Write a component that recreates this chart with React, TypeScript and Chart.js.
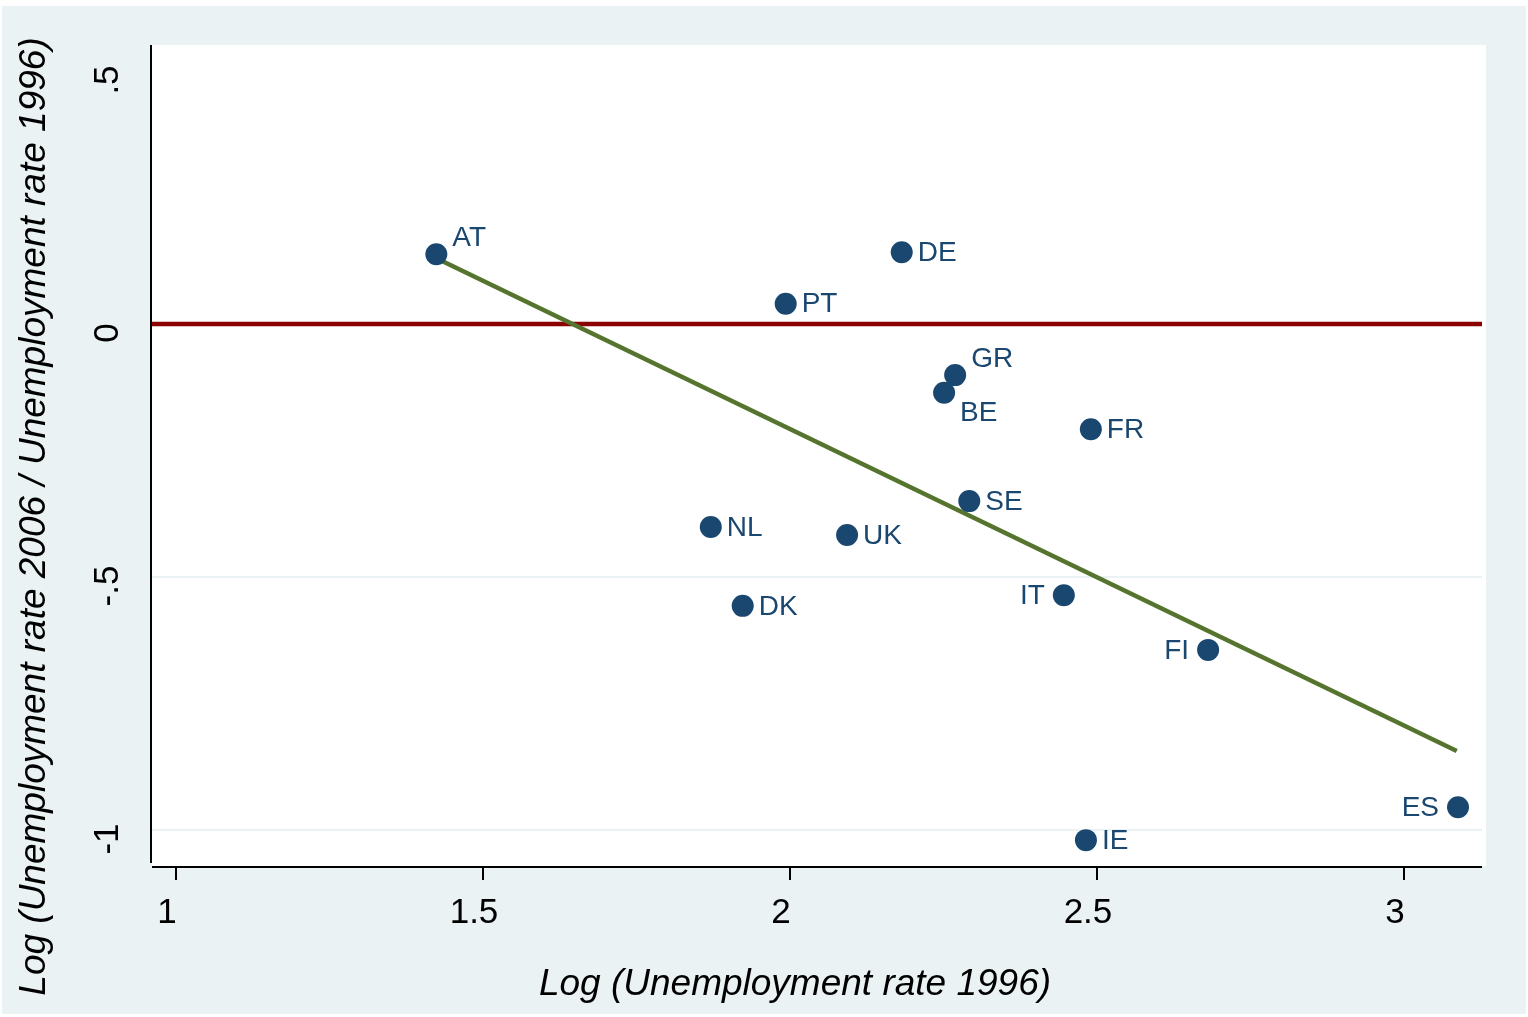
import React, { useEffect, useRef } from "react";
import { Chart, registerables } from "chart.js";

Chart.register(...registerables);

// ---- data ----
const countries = ["AT", "DE", "PT", "GR", "BE", "FR", "SE", "NL", "UK", "IT", "DK", "FI", "ES", "IE"];
const logUnemp1996 = [1.424, 2.182, 1.993, 2.269, 2.251, 2.49, 2.292, 1.871, 2.093, 2.446, 1.923, 2.681, 3.088, 2.482];
const logRatio = [0.138, 0.142, 0.04, -0.101, -0.136, -0.208, -0.35, -0.401, -0.417, -0.536, -0.557, -0.644, -0.955, -1.02];
const fitX = [1.424, 3.086];
const fitY = [0.13, -0.844];
const xTicks = [1, 1.5, 2, 2.5, 3];
const xTickLabels = ["1", "1.5", "2", "2.5", "3"];
const yTicks = [-1, -0.5, 0, 0.5];
const yTickLabels = ["-1", "-.5", "0", ".5"];
const yGridValues = [-1, -0.5];
const refLineY = 0;
const xTitle = "Log (Unemployment rate 1996)";
const yTitle = "Log (Unemployment rate 2006 / Unemployment rate 1996)";

// label placement (clock-style)
const labelPlacement: Record<string, string> = {
  AT: "ne", GR: "ne", BE: "se", IT: "w", FI: "w", ES: "w",
};

const NAVY = "#1a476f";
const GREEN = "#55752f";
const RED = "#8b0000";
const BG = "#eaf2f3";
const FONT = "'Liberation Sans', Arial, Helvetica, sans-serif";

const W = 1528;
const H = 1017;

export default function App() {
  const ref = useRef<HTMLCanvasElement | null>(null);

  useEffect(() => {
    document.body.style.margin = "0";
    const canvas = ref.current!;
    const framePlugin = {
      id: "frame",
      beforeDraw(chart: any) {
        const ctx = chart.ctx;
        const a = chart.chartArea;
        ctx.save();
        ctx.fillStyle = "#ffffff";
        ctx.fillRect(0, 0, W, H);
        ctx.fillStyle = BG;
        ctx.fillRect(2, 6, W - 4, H - 9);
        ctx.fillStyle = "#ffffff";
        ctx.fillRect(a.left, a.top, a.right - a.left, a.bottom - a.top);
        const xs = chart.scales.x;
        const ys = chart.scales.y;
        // gridlines
        ctx.strokeStyle = BG;
        ctx.lineWidth = 2;
        yGridValues.forEach((v) => {
          const py = Math.round(ys.getPixelForValue(v));
          ctx.beginPath();
          ctx.moveTo(a.left, py);
          ctx.lineTo(a.right - 4, py);
          ctx.stroke();
        });
        // reference line
        const ry = ys.getPixelForValue(refLineY);
        ctx.strokeStyle = RED;
        ctx.lineWidth = 4.5;
        ctx.beginPath();
        ctx.moveTo(a.left, ry);
        ctx.lineTo(a.right - 4, ry);
        ctx.stroke();
        // axes
        ctx.strokeStyle = "#000000";
        ctx.lineWidth = 2;
        ctx.beginPath();
        ctx.moveTo(a.left - 1, a.top);
        ctx.lineTo(a.left - 1, a.bottom - 3);
        ctx.stroke();
        ctx.beginPath();
        ctx.moveTo(a.left, a.bottom + 1);
        ctx.lineTo(a.right - 4, a.bottom + 1);
        ctx.stroke();
        xTicks.forEach((v) => {
          const px = Math.round(xs.getPixelForValue(v));
          ctx.beginPath();
          ctx.moveTo(px, a.bottom + 1);
          ctx.lineTo(px, a.bottom + 14);
          ctx.stroke();
        });
        // tick labels
        ctx.fillStyle = "#000000";
        ctx.font = `35px ${FONT}`;
        ctx.textAlign = "center";
        ctx.textBaseline = "middle";
        xTicks.forEach((v, i) => {
          const px = xs.getPixelForValue(v);
          ctx.fillText(xTickLabels[i], px - 9, 913);
        });
        yTicks.forEach((v, i) => {
          const py = ys.getPixelForValue(v);
          ctx.save();
          ctx.translate(108, py + 9);
          ctx.rotate(-Math.PI / 2);
          ctx.fillText(yTickLabels[i], 0, 0);
          ctx.restore();
        });
        // titles
        ctx.font = `italic 37px ${FONT}`;
        ctx.fillText(xTitle, (a.left + a.right) / 2 - 24, 985);
        ctx.save();
        ctx.translate(35, (a.top + a.bottom) / 2 + 61);
        ctx.rotate(-Math.PI / 2);
        ctx.fillText(yTitle, 0, 0);
        ctx.restore();
        ctx.restore();
      },
      afterDatasetsDraw(chart: any) {
        const ctx = chart.ctx;
        const meta = chart.getDatasetMeta(0);
        ctx.save();
        ctx.fillStyle = NAVY;
        ctx.font = `28px ${FONT}`;
        ctx.textBaseline = "middle";
        countries.forEach((c, i) => {
          const pt = meta.data[i];
          const pos = labelPlacement[c] || "e";
          let dx = 16;
          let dy = 0;
          ctx.textAlign = "left";
          if (pos === "ne") dy = -17;
          if (pos === "se") dy = 19;
          if (pos === "w") {
            ctx.textAlign = "right";
            dx = -19;
          }
          ctx.fillText(c, pt.x + dx, pt.y + dy + 1);
        });
        ctx.restore();
      },
    };

    const chart = new Chart(canvas, {
      type: "scatter",
      data: {
        datasets: [
          {
            type: "scatter",
            data: logUnemp1996.map((x, i) => ({ x, y: logRatio[i] })),
            backgroundColor: NAVY,
            borderColor: NAVY,
            pointRadius: 11,
            pointHoverRadius: 11,
            borderWidth: 0,
          },
          {
            type: "line",
            data: fitX.map((x, i) => ({ x, y: fitY[i] })),
            borderColor: GREEN,
            borderWidth: 4.5,
            pointRadius: 0,
            fill: false,
            showLine: true,
          } as any,
        ],
      },
      options: {
        responsive: false,
        devicePixelRatio: 1,
        animation: false,
        events: [],
        layout: { padding: { left: 152, right: 42, top: 45, bottom: 151 } },
        plugins: { legend: { display: false }, tooltip: { enabled: false } },
        scales: {
          x: { type: "linear", min: 0.9609, max: 3.1336, display: false },
          y: { type: "linear", min: -1.0711, max: 0.5514, display: false },
        },
      },
      plugins: [framePlugin],
    });
    return () => chart.destroy();
  }, []);

  return <canvas ref={ref} width={W} height={H} style={{ display: "block", width: W, height: H }} />;
}
